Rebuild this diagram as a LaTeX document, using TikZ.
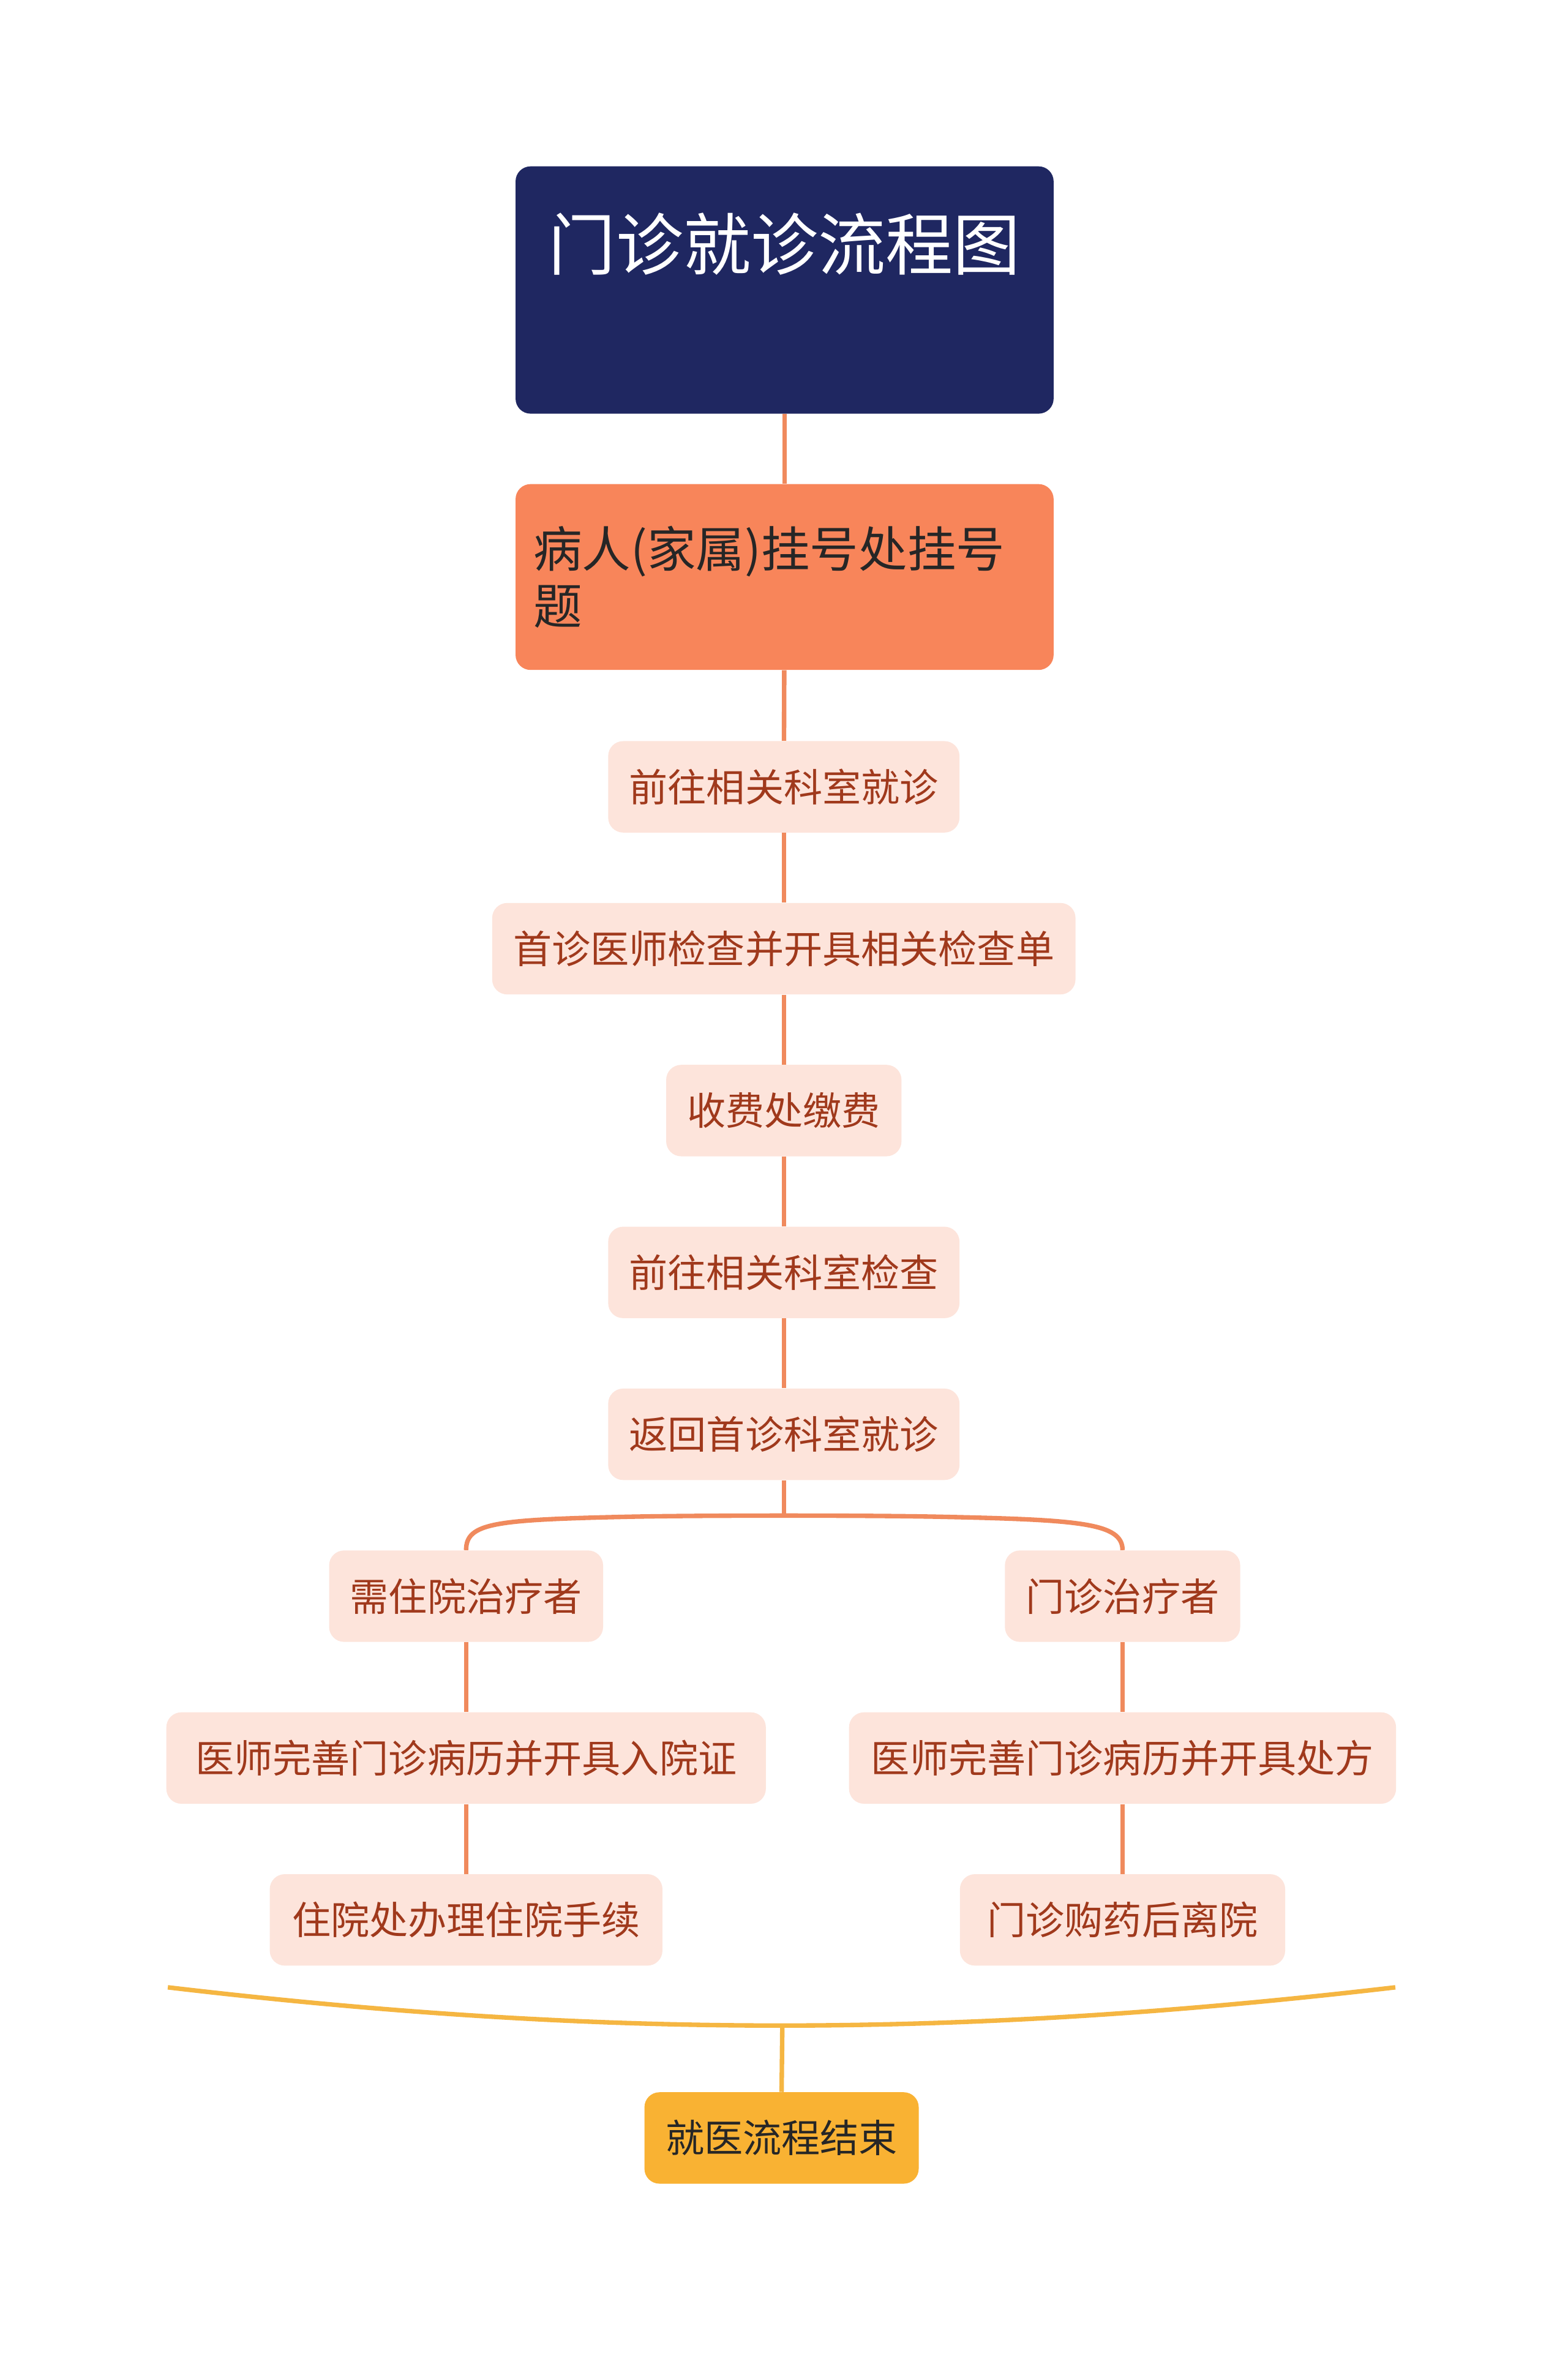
\documentclass[tikz,border=0pt]{standalone}
\usepackage{fontspec}
\setmainfont{Noto Sans CJK SC}
\definecolor{navy}{HTML}{1F2761}
\definecolor{orng}{HTML}{F8855A}
\definecolor{lite}{HTML}{FDE4DB}
\definecolor{ltxt}{HTML}{A0391C}
\definecolor{line}{HTML}{F08A5D}
\definecolor{yel}{HTML}{F9B233}
\definecolor{yline}{HTML}{F5B642}
\tikzset{
 small/.style={fill=lite,text=ltxt,rounded corners=10pt,minimum height=61pt,inner xsep=14pt,font=\fontsize{25.8}{30}\selectfont},
 conn/.style={draw=line,line width=3pt},
}
\begin{document}
\begin{tikzpicture}[x=1pt,y=-1pt]
\useasboundingbox[fill=white] (0,0) rectangle (1046,1572);
\node[fill=navy,rounded corners=10pt,minimum width=359pt,minimum height=165pt] (t) at (523.5,193.5) {};
\node[text=white,font=\fontsize{45}{52}\selectfont] (tt) at (523.5,163) {门诊就诊流程图};
\node[fill=orng,rounded corners=10pt,minimum width=359pt,minimum height=124pt,text width=335pt,align=left,inner xsep=12pt,text=black!85,font=\fontsize{32.5}{38}\selectfont] (n1) at (523.5,385) {病人(家属)挂号处挂号\\题};
\node[small] (n2) at (523,525) {前往相关科室就诊};
\node[small] (n3) at (523,633) {首诊医师检查并开具相关检查单};
\node[small] (n4) at (523,741) {收费处缴费};
\node[small] (n5) at (523,849) {前往相关科室检查};
\node[small] (n6) at (523,957) {返回首诊科室就诊};
\node[small] (l1) at (311,1065) {需住院治疗者};
\node[small] (r1) at (749,1065) {门诊治疗者};
\node[small,minimum width=400pt] (l2) at (311,1173) {医师完善门诊病历并开具入院证};
\node[small,minimum width=365pt] (r2) at (749,1173) {医师完善门诊病历并开具处方};
\node[small,minimum width=262pt] (l3) at (311,1281) {住院处办理住院手续};
\node[small,minimum width=217pt] (r3) at (749,1281) {门诊购药后离院};
\node[fill=yel,rounded corners=10pt,minimum width=183pt,minimum height=61pt,text=black!85,font=\fontsize{25.8}{30}\selectfont] (e) at (521.5,1426.5) {就医流程结束};
\draw[conn] (t) -- (n1);
\draw[conn] (n1) -- (n2);
\draw[conn] (n2) -- (n3);
\draw[conn] (n3) -- (n4);
\draw[conn] (n4) -- (n5);
\draw[conn] (n5) -- (n6);
\coordinate (sp) at (523,1011);
\draw[conn] (n6.south) -- (sp);
\draw[conn] (l1.north) .. controls (311,1016) and (330,1014) .. (420,1012) .. controls (470,1011) and (576,1011) .. (626,1012) .. controls (720,1014) and (749,1016) .. (r1.north);
\draw[conn] (l1) -- (l2);
\draw[conn] (l2) -- (l3);
\draw[conn] (r1) -- (r2);
\draw[conn] (r2) -- (r3);
\coordinate (bl) at (112,1326);
\coordinate (br) at (931,1326);
\coordinate (bm) at (522,1352);
\draw[draw=yline,line width=3pt] (bl) .. controls (400,1360) and (640,1360) .. (br);
\draw[draw=yline,line width=3pt] (bm) -- (e.north);
\end{tikzpicture}
\end{document}
